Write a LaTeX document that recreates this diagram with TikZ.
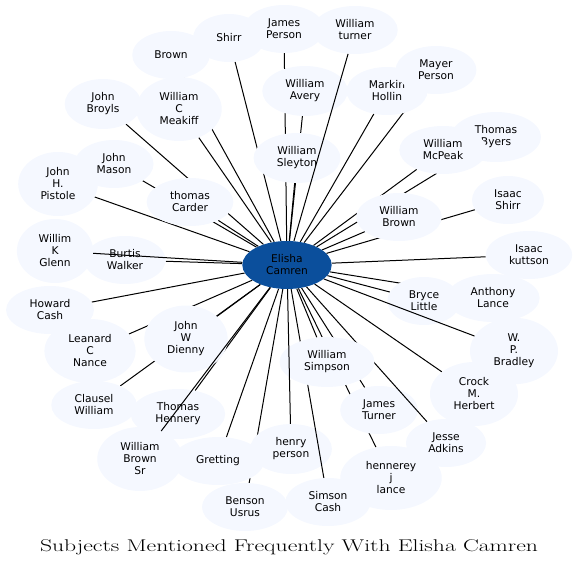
\documentclass[tikz,border=0pt]{standalone}
\usepackage{fontspec}
\usepackage{graphicx}
\newfontfamily\labfont{DejaVu Sans}
\usetikzlibrary{shapes.geometric}
\definecolor{nodefill}{HTML}{F5F8FF}
\definecolor{centerblue}{HTML}{0B4F9C}
\pgfdeclarelayer{edges}
\pgfdeclarelayer{over}
\pgfdeclarelayer{top}
\pgfdeclarelayer{toptop}
\pgfsetlayers{edges,main,over,top,toptop}
\begin{document}
\begin{tikzpicture}[x=1pt,y=-1pt,
  nd/.style={ellipse, fill=nodefill, inner xsep=10.67pt, inner ysep=6.5pt,
    minimum width=72pt, minimum height=48pt, align=center,
    font=\labfont\fontsize{10.67}{12}\selectfont, text=black},
  lk/.style={line width=1pt, black}]
\useasboundingbox (0,0) rectangle (579,568);
\node[nd, fill=centerblue] (c) at (287,265) {Elisha\\Camren};
\node[nd] (brown) at (171,55) {Brown};
\node[nd] (shirr) at (229,38) {Shirr};
\node[nd] (jperson) at (284,29) {James\\Person};
\node[nd] (wturner) at (355,30) {William\\turner};
\node[nd] (wavery) at (305,91) {William\\Avery};
\node[nd] (markin) at (387,91) {Markin\\Hollin};
\node[nd] (mayer) at (436,70) {Mayer\\Person};
\node[nd] (meakiff) at (179,109) {William\\C\\Meakiff};
\node[nd] (broyls) at (103,104) {John\\Broyls};
\node[nd] (mason) at (114,164) {John\\Mason};
\node[nd] (pistole) at (58,184) {John\\H.\\Pistole};
\node[nd] (carder) at (190,202) {thomas\\Carder};
\node[nd] (sleyton) at (297,158) {William\\Sleyton};
\node[nd] (byers) at (496,137) {Thomas\\Byers};
\node[nd] (mcpeak) at (443,150) {William\\McPeak};
\node[nd] (ishirr) at (508,200) {Isaac\\Shirr};
\node[nd] (wbrown) at (399,217) {William\\Brown};
\node[nd] (kuttson) at (529,255) {Isaac\\kuttson};
\node[nd] (glenn) at (55,251) {Willim\\K\\Glenn};
\node[nd] (walker) at (125,260) {Burtis\\Walker};
\node[nd] (hcash) at (50,310) {Howard\\Cash};
\node[nd] (lance) at (493,298) {Anthony\\Lance};
\node[nd] (little) at (424,301) {Bryce\\Little};
\node[nd] (bradley) at (514,351) {W.\\P.\\Bradley};
\node[nd] (nance) at (90,351) {Leanard\\C\\Nance};
\node[nd] (dienny) at (186,339) {John\\W\\Dienny};
\node[nd] (crock) at (474,394) {Crock\\M.\\Herbert};
\node[nd] (clausel) at (94,405) {Clausel\\William};
\node[nd] (hennery) at (178,414) {Thomas\\Hennery};
\node[nd] (jturner) at (379,410) {James\\Turner};
\node[nd] (adkins) at (446,443) {Jesse\\Adkins};
\node[nd] (brownsr) at (140,459) {William\\Brown\\Sr};
\node[nd] (gretting) at (218,461) {Gretting};
\node[nd] (hperson) at (291,449) {henry\\person};
\node[nd] (hlance) at (391,478) {hennerey\\j\\lance};
\node[nd] (usrus) at (245,507) {Benson\\Usrus};
\node[nd] (scash) at (328,502) {Simson\\Cash};
\begin{pgfonlayer}{top}
\node[nd] (simpson) at (327,362) {William\\Simpson};
\end{pgfonlayer}
\begin{pgfonlayer}{edges}
\foreach \n in {brown,shirr,jperson,wavery,markin,mayer,meakiff,broyls,mason,pistole,carder,sleyton,byers,mcpeak,ishirr,wbrown,kuttson,walker,hcash,lance,little,nance,dienny,crock,clausel,hennery,jturner,gretting,hlance,usrus,simpson}
  \draw[lk] (c) -- (\n);
\end{pgfonlayer}
\begin{pgfonlayer}{over}
\foreach \n in {wturner,glenn,brownsr,scash,adkins,bradley}
  \draw[lk] (c) -- (\n);
\end{pgfonlayer}
\begin{pgfonlayer}{toptop}
\draw[lk] (c) -- (hperson);
\end{pgfonlayer}
\node (title) at (289,547) {\resizebox{498pt}{\height}{\fontsize{17}{20}\selectfont Subjects Mentioned Frequently With Elisha Camren}};
\end{tikzpicture}
\end{document}
